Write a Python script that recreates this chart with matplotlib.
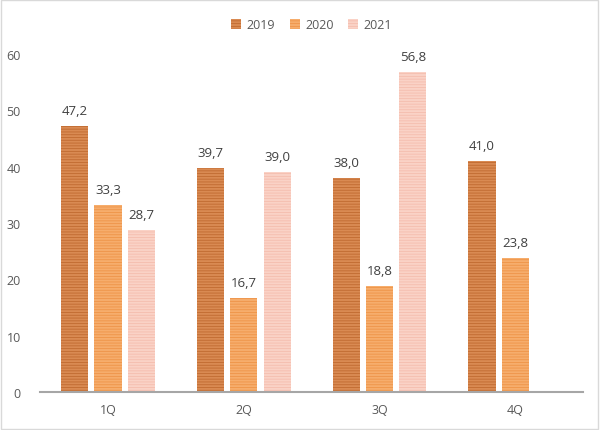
import numpy as np
import matplotlib
import matplotlib.pyplot as plt

matplotlib.rcParams['font.family'] = ['Open Sans', 'DejaVu Sans']
matplotlib.rcParams['hatch.linewidth'] = 0.6

quarters = ['1Q', '2Q', '3Q', '4Q']
years = ['2019', '2020', '2021']
v2019 = [47.2, 39.7, 38.0, 41.0]
v2020 = [33.3, 16.7, 18.8, 23.8]
v2021 = [28.7, 39.0, 56.8, None]

# фон / штриховка для каждого года
faces = ['#D98A52', '#F6AD6C', '#FAD2C6']
hatches = ['#C06A30', '#EE9448', '#F5BDAE']

fig = plt.figure(figsize=(6, 4.31), dpi=100)
ax = fig.add_axes([0.067, 0.088, 0.905, 0.784])

x = np.arange(len(quarters))
w = 0.2
off = 0.245
TXT = '#595959'
for k, (vals, fc, hc, name) in enumerate(zip([v2019, v2020, v2021], faces, hatches, years)):
    xs = [xi + (k - 1) * off for xi, v in zip(x, vals) if v is not None]
    vs = [v for v in vals if v is not None]
    ax.bar(xs, vs, w, color=fc, edgecolor=hc, hatch='------', lw=0, label=name)
    for xi, v in zip(xs, vs):
        ax.text(xi, v + 1.6, f'{v:.1f}'.replace('.', ','), ha='center', va='bottom',
                fontsize=9.5, color='#404040')

ax.set_xlim(-0.5, 3.5)
ax.set_ylim(0, 60)
ax.set_yticks(range(0, 61, 10))
ax.set_xticks(x)
ax.set_xticklabels(quarters)
for s in ['top', 'right', 'left']:
    ax.spines[s].set_visible(False)
ax.spines['bottom'].set_color('#A6A6A6')
ax.spines['bottom'].set_linewidth(1.5)
ax.tick_params(axis='both', length=0, colors=TXT, labelsize=9)
ax.tick_params(axis='y', pad=14)
ax.tick_params(axis='x', pad=8)

ax.legend(loc='upper center', bbox_to_anchor=(0.5, 1.14), ncol=3, frameon=False,
          fontsize=9, handlelength=0.8, handleheight=0.8, columnspacing=1.2,
          handletextpad=0.4, labelcolor=TXT)

fig.patches.append(plt.Rectangle((0.002, 0.002), 0.995, 0.995, transform=fig.transFigure,
                                 fill=False, edgecolor='#D9D9D9', lw=1))
plt.savefig('out.png', dpi=100)
